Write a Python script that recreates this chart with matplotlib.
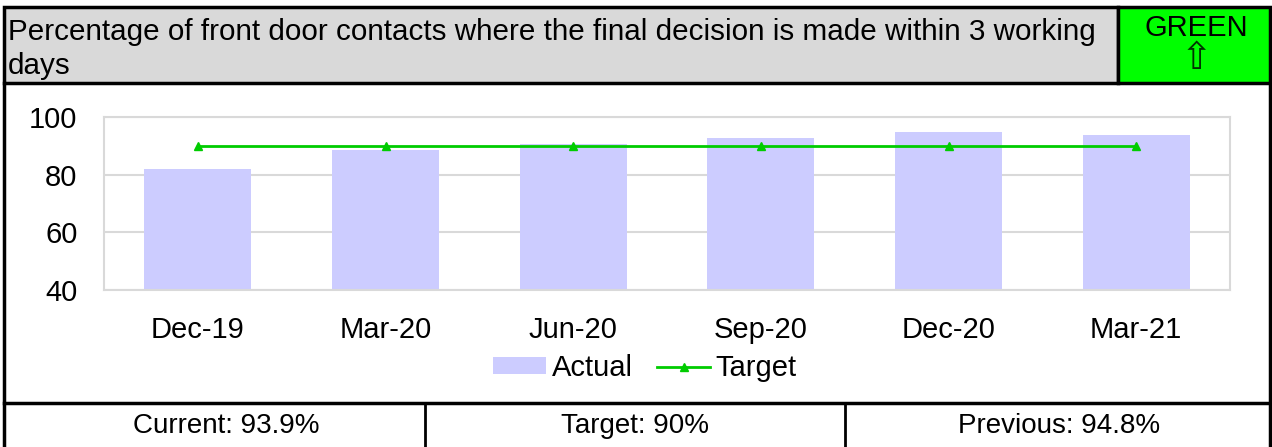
import matplotlib
matplotlib.use("Agg")
import matplotlib.pyplot as plt
from matplotlib.patches import Rectangle
from matplotlib.lines import Line2D

plt.rcParams["font.family"] = ["Liberation Sans", "DejaVu Sans"]

quarters = ["Dec-19", "Mar-20", "Jun-20", "Sep-20", "Dec-20", "Mar-21"]
actual = [82.1, 88.4, 90.8, 92.8, 94.8, 93.9]
target = [90, 90, 90, 90, 90, 90]

title = "Percentage of front door contacts where the final decision is made within 3 working\ndays"
status = "GREEN"
footer = ["Current: 93.9%", "Target: 90%", "Previous: 94.8%"]

W, H = 1272, 447
FS = 21
fig = plt.figure(figsize=(W / 100, H / 100), dpi=100)


def fx(px):
    return px / W


def fy(py):
    return 1 - py / H


# --- header boxes ---
fig.patches.append(Rectangle((fx(4), fy(83)), fx(1118 - 4), (83 - 7) / H,
                             transform=fig.transFigure, facecolor="#D9D9D9",
                             edgecolor="black", lw=2.5))
fig.patches.append(Rectangle((fx(1118), fy(83)), fx(1270 - 1118), (83 - 7) / H,
                             transform=fig.transFigure, facecolor="#00FF00",
                             edgecolor="black", lw=2.5))
fig.text(fx(8), fy(49), title, ha="left", va="center", fontsize=21.3, linespacing=1.25)
fig.text(fx(1196), fy(28), status, ha="center", va="center", fontsize=FS)
fig.text(fx(1196), fy(59), "\u21e7", ha="center", va="center", fontsize=27,
         color="#003300", family=["DejaVu Sans", "Noto Sans", "Liberation Sans"])

# outer frame for chart body
fig.add_artist(Line2D([fx(4), fx(4)], [fy(83), 0], color="black", lw=2.5))
fig.add_artist(Line2D([fx(1270), fx(1270)], [fy(83), 0], color="black", lw=2.5))

# --- chart ---
ax = fig.add_axes([fx(104), fy(290), fx(1230 - 104), (290 - 117) / H])
x = range(len(quarters))
bars = ax.bar(x, actual, width=0.57, color="#CCCCFF", label="Actual", zorder=2)
line, = ax.plot(x, target, color="#00CC00", lw=2, marker="^", markersize=6,
                label="Target", zorder=3)
ax.set_ylim(40, 100)
ax.set_yticks([40, 60, 80, 100])
ax.set_xlim(-0.5, len(quarters) - 0.5)
ax.set_xticks(list(x))
ax.set_xticklabels(quarters)
ax.tick_params(axis="x", length=0, labelsize=FS, pad=19)
ax.tick_params(axis="y", length=0, labelsize=FS, pad=19)
ax.grid(axis="y", color="#D9D9D9", lw=1.5, zorder=0)
for s in ax.spines.values():
    s.set_color("#D9D9D9")
    s.set_linewidth(1.5)

fig.legend([bars, line], ["Actual", "Target"], loc="center",
           bbox_to_anchor=(fx(645), fy(368)), ncol=2, frameon=False,
           fontsize=FS, handlelength=1.8, handleheight=0.5, handletextpad=0.2,
           columnspacing=0.85, borderpad=0)

# --- footer ---
fig.add_artist(Line2D([fx(4), fx(1270)], [fy(403), fy(403)], color="black", lw=2.5))
for xd in [425, 845]:
    fig.add_artist(Line2D([fx(xd), fx(xd)], [fy(403), 0], color="black", lw=2))
for txt, cx in zip(footer, [226, 635, 1059]):
    fig.text(fx(cx), fy(426), txt, ha="center", va="center", fontsize=20)

fig.savefig("out.png", dpi=100)
